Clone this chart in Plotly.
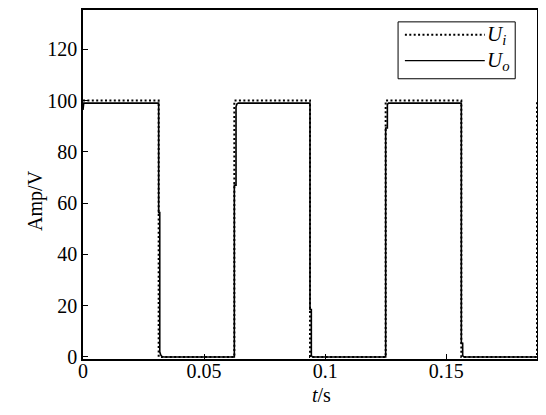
import plotly.graph_objects as go

# input square wave Ui (16 Hz, 100 V)
t_in = [0, 0.03125, 0.03125, 0.0625, 0.0625, 0.09375, 0.09375,
        0.125, 0.125, 0.15625, 0.15625, 0.1875, 0.1875]
u_in = [100, 100, 0, 0, 100, 100, 0, 0, 100, 100, 0, 0, 100]

# output Uo (holds one sample on each edge)
t_out = [0, 0.0003, 0.03125, 0.03125, 0.0317, 0.0317, 0.0321, 0.0326, 0.0333,
         0.0625, 0.0625, 0.0632, 0.0632, 0.0636, 0.0642,
         0.09375, 0.09375, 0.0943, 0.0943, 0.0948,
         0.125, 0.125, 0.1257, 0.1257, 0.1262,
         0.15625, 0.15625, 0.1568, 0.1568, 0.1573, 0.1875]
u_out = [96.3, 99, 99, 56.3, 56.3, 2.0, 0.8, 0.2, 0,
         0, 67, 67, 97.6, 98.7, 99,
         99, 18.5, 18.5, 0.5, 0,
         0, 89.3, 89.3, 98.5, 99,
         99, 5.3, 5.3, 0.5, 0, 0]

x_ticks = [0, 0.05, 0.1, 0.15]
x_labels = ["0", "0.05", "0.1", "0.15"]
y_ticks = [0, 20, 40, 60, 80, 100, 120]

serif = "Liberation Serif, Times New Roman, serif"

fig = go.Figure()
fig.add_trace(go.Scatter(x=t_in, y=u_in, mode="lines", name="Ui",
                         line=dict(color="black", width=2, dash="2px,2.4px")))
fig.add_trace(go.Scatter(x=t_out, y=u_out, mode="lines", name="Uo",
                         line=dict(color="black", width=1.6)))

axis = dict(showgrid=False, zeroline=False, showline=True, linecolor="black",
            linewidth=1.6, mirror=True, ticks="inside", ticklen=5,
            tickwidth=1, tickcolor="black",
            tickfont=dict(family=serif, size=20, color="black"))

fig.update_xaxes(range=[0, 0.1875], tickvals=x_ticks, ticktext=x_labels,
                 ticklabelstandoff=-7, **axis)
fig.update_yaxes(range=[-0.8, 135.3], tickvals=y_ticks, **axis)

# hand-made legend box like the original
shapes = [
    dict(type="rect", xref="paper", yref="paper", x0=0.694, x1=0.952,
         y0=0.803, y1=0.966, line=dict(color="black", width=1),
         fillcolor="white"),
    dict(type="line", xref="paper", yref="paper", x0=0.709, x1=0.885,
         y0=0.929, y1=0.929,
         line=dict(color="black", width=2, dash="2px,2.4px")),
    dict(type="line", xref="paper", yref="paper", x0=0.709, x1=0.885,
         y0=0.855, y1=0.855, line=dict(color="black", width=1.3)),
]

annotations = [
    dict(text="<i>U</i><sub><i>i</i></sub>", xref="paper", yref="paper",
         x=0.886, y=0.929, xanchor="left", yanchor="middle", showarrow=False,
         font=dict(family=serif, size=21, color="black")),
    dict(text="<i>U</i><sub><i>o</i></sub>", xref="paper", yref="paper",
         x=0.886, y=0.855, xanchor="left", yanchor="middle", showarrow=False,
         font=dict(family=serif, size=21, color="black")),
    dict(text="Amp/V", xref="paper", yref="paper", x=0, y=0.453,
         xshift=-47, xanchor="center", yanchor="middle", textangle=-90,
         showarrow=False, font=dict(family=serif, size=20, color="black")),
    dict(text="<i>t</i>/s", xref="paper", yref="paper", x=0.526, y=0,
         yshift=-36, xanchor="center", yanchor="middle", showarrow=False,
         font=dict(family=serif, size=20, color="black")),
]

# the page body has an 8 px margin, so the figure is 8 px smaller
fig.update_layout(
    width=538, height=407,
    margin=dict(l=75, r=9, t=0, b=56),
    paper_bgcolor="white", plot_bgcolor="white",
    showlegend=False,
    shapes=shapes, annotations=annotations,
)

fig.write_html("out.html")
